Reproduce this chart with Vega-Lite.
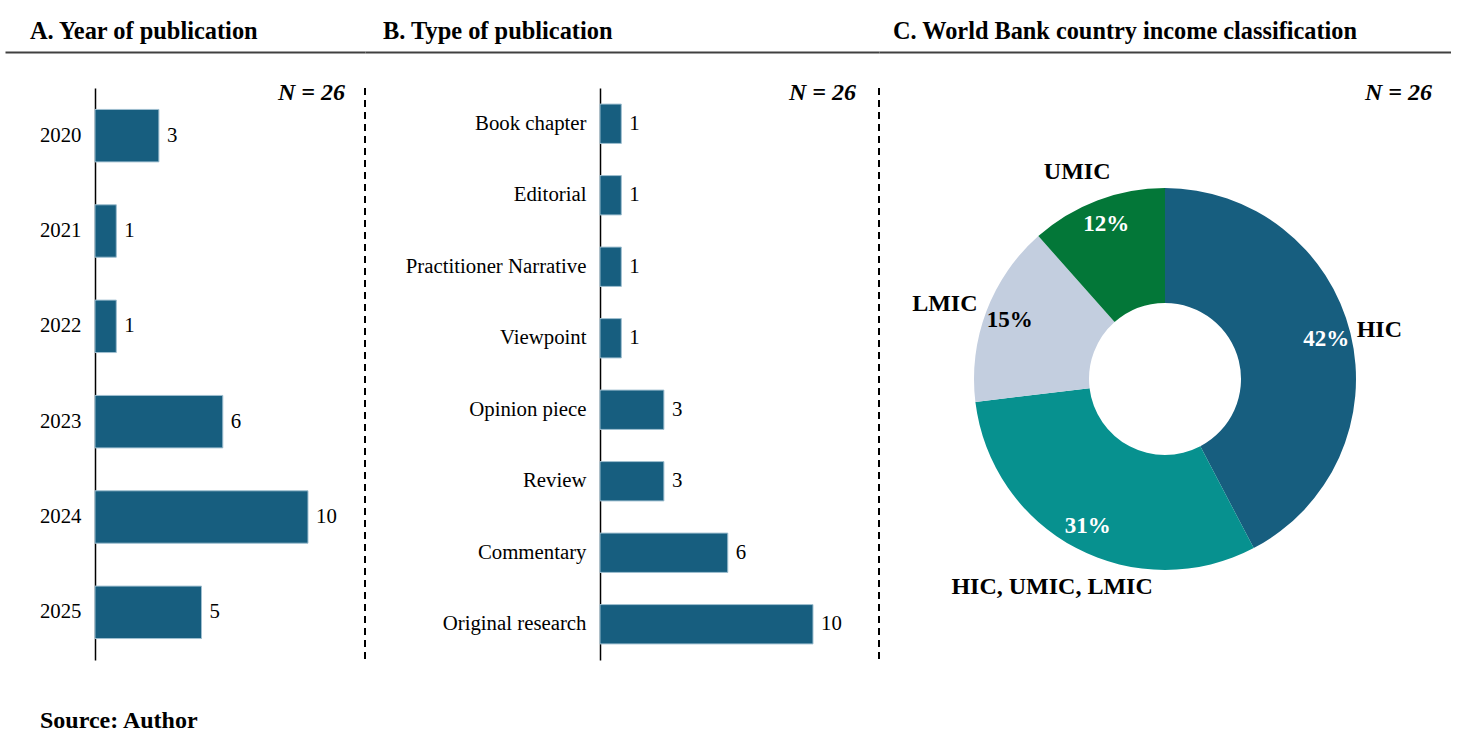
{
  "$schema": "https://vega.github.io/schema/vega-lite/v6.json",
  "padding": {"left": 5, "top": 18, "right": 0, "bottom": 0},
  "background": "white",
  "spacing": 0,
  "bounds": "flush",
  "config": {
    "view": {"stroke": null},
    "font": "Liberation Serif",
    "text": {"font": "Liberation Serif", "color": "black"},
    "title": {"font": "Liberation Serif", "color": "black", "fontWeight": "bold"},
    "axis": {"labelFont": "Liberation Serif", "labelColor": "black"}
  },
  "title": {"text": "Source: Author", "orient": "bottom", "anchor": "start", "dx": 35, "offset": 39, "fontSize": 24, "fontWeight": "bold", "font": "Liberation Serif", "color": "black"},
  "hconcat": [
    {
      "width": 360,
      "height": 572,
      "title": {"text": "A. Year of publication", "anchor": "start", "dx": 25, "offset": 8, "fontSize": 24.4, "fontWeight": "bold"},
      "data": {"values": [
        {"year": "2020", "count": 3},
        {"year": "2021", "count": 1},
        {"year": "2022", "count": 1},
        {"year": "2023", "count": 6},
        {"year": "2024", "count": 10},
        {"year": "2025", "count": 5}
      ]},
      "layer": [
        {
          "mark": {"type": "bar", "color": "#175e7f", "stroke": "#9fbfd0", "strokeWidth": 1},
          "encoding": {
            "y": {"field": "year", "type": "ordinal", "scale": {"paddingInner": 0.45, "paddingOuter": 0.225, "round": false},
              "axis": {"orient": "left", "offset": -90, "title": null, "domain": true, "domainColor": "black", "domainWidth": 1.5, "ticks": false, "tickSize": 0, "labelPadding": 14, "labelFontSize": 20.8, "labelLimit": 0, "grid": false}},
            "x": {"field": "count", "type": "quantitative", "scale": {"domain": [-4.225, 12.676], "nice": false, "zero": false},
              "axis": {"orient": "top", "offset": 36, "domain": true, "domainColor": "#404040", "domainWidth": 2, "labels": false, "ticks": false, "grid": false, "title": null}}
          }
        },
        {
          "mark": {"type": "text", "align": "left", "baseline": "middle", "dx": 8, "fontSize": 20.8},
          "encoding": {
            "y": {"field": "year", "type": "ordinal"},
            "x": {"field": "count", "type": "quantitative"},
            "text": {"field": "count", "type": "quantitative"}
          }
        },
        {
          "data": {"values": [{}]},
          "mark": {"type": "rule", "strokeDash": [7, 5], "strokeWidth": 2, "color": "black"},
          "encoding": {"x": {"value": "width"}}
        },
        {
          "data": {"values": [{}]},
          "mark": {"type": "text", "align": "right", "baseline": "middle", "dx": -20, "dy": -43, "fontSize": 24, "fontStyle": "italic", "fontWeight": "bold", "text": "N = 26"},
          "encoding": {"x": {"value": "width"}, "y": {"datum": "2020", "type": "ordinal"}}
        }
      ]
    },
    {
      "width": 514,
      "height": 572,
      "title": {"text": "B. Type of publication", "anchor": "start", "dx": 18, "offset": 8, "fontSize": 24.4, "fontWeight": "bold"},
      "data": {"values": [
        {"type": "Book chapter", "count": 1},
        {"type": "Editorial", "count": 1},
        {"type": "Practitioner Narrative", "count": 1},
        {"type": "Viewpoint", "count": 1},
        {"type": "Opinion piece", "count": 3},
        {"type": "Review", "count": 3},
        {"type": "Commentary", "count": 6},
        {"type": "Original research", "count": 10}
      ]},
      "layer": [
        {
          "mark": {"type": "bar", "color": "#175e7f", "stroke": "#9fbfd0", "strokeWidth": 1},
          "encoding": {
            "y": {"field": "type", "type": "nominal", "sort": null,
              "scale": {"domain": ["Book chapter", "Editorial", "Practitioner Narrative", "Viewpoint", "Opinion piece", "Review", "Commentary", "Original research"], "paddingInner": 0.45, "paddingOuter": 0.225, "round": false},
              "axis": {"orient": "left", "offset": -235, "title": null, "domain": true, "domainColor": "black", "domainWidth": 1.5, "ticks": false, "tickSize": 0, "labelPadding": 14, "labelFontSize": 20.8, "labelLimit": 0, "grid": false}},
            "x": {"field": "count", "type": "quantitative", "scale": {"domain": [-11.033, 13.099], "nice": false, "zero": false},
              "axis": {"orient": "top", "offset": 36, "domain": true, "domainColor": "#404040", "domainWidth": 2, "labels": false, "ticks": false, "grid": false, "title": null}}
          }
        },
        {
          "mark": {"type": "text", "align": "left", "baseline": "middle", "dx": 8, "fontSize": 20.8},
          "encoding": {
            "y": {"field": "type", "type": "nominal", "sort": null},
            "x": {"field": "count", "type": "quantitative"},
            "text": {"field": "count", "type": "quantitative"}
          }
        },
        {
          "data": {"values": [{}]},
          "mark": {"type": "rule", "strokeDash": [7, 5], "strokeWidth": 2, "color": "black"},
          "encoding": {"x": {"value": "width"}}
        },
        {
          "data": {"values": [{}]},
          "mark": {"type": "text", "align": "right", "baseline": "middle", "dx": -23, "dy": -31, "fontSize": 24, "fontStyle": "italic", "fontWeight": "bold", "text": "N = 26"},
          "encoding": {"x": {"value": "width"}, "y": {"datum": "Book chapter", "type": "nominal"}}
        }
      ]
    },
    {
      "width": 572,
      "height": 582,
      "title": {"text": "C. World Bank country income classification", "anchor": "start", "dx": 14, "offset": 8, "fontSize": 24.3, "fontWeight": "bold"},
      "data": {"values": [
        {"income": "HIC", "count": 11, "pct": "42%"},
        {"income": "HIC, UMIC, LMIC", "count": 8, "pct": "31%"},
        {"income": "LMIC", "count": 4, "pct": "15%"},
        {"income": "UMIC", "count": 3, "pct": "12%"}
      ]},
      "layer": [
        {
          "mark": {"type": "arc", "innerRadius": 76, "outerRadius": 191},
          "encoding": {
            "theta": {"field": "count", "type": "quantitative", "stack": true},
            "color": {"field": "income", "type": "nominal", "scale": {"domain": ["HIC", "HIC, UMIC, LMIC", "LMIC", "UMIC"], "range": ["#175e7f", "#07918f", "#c3cedf", "#037738"]}, "legend": null},
            "order": {"field": "income", "sort": "ascending"}
          }
        },
        {
          "mark": {"type": "text", "radius": 166, "fontSize": 23, "fontWeight": "bold"},
          "encoding": {
            "theta": {"field": "count", "type": "quantitative", "stack": true},
            "text": {"field": "pct", "type": "nominal"},
            "order": {"field": "income", "sort": "ascending"},
            "color": {"condition": {"test": "datum.income === 'LMIC'", "value": "black"}, "value": "white"}
          }
        },
        {
          "mark": {"type": "text", "radius": 228, "dx": -7, "dy": 6, "fontSize": 24, "fontWeight": "bold", "color": "black"},
          "encoding": {
            "theta": {"field": "count", "type": "quantitative", "stack": true},
            "text": {"field": "income", "type": "nominal"},
            "order": {"field": "income", "sort": "ascending"}
          }
        },
        {
          "data": {"values": [{}]},
          "mark": {"type": "text", "align": "right", "baseline": "middle", "dx": -19, "dy": 5, "fontSize": 24, "fontStyle": "italic", "fontWeight": "bold", "text": "N = 26"},
          "encoding": {
            "x": {"datum": "N", "type": "nominal", "scale": {"type": "point", "align": 1, "padding": 0},
              "axis": {"orient": "top", "offset": 36, "domain": true, "domainColor": "#404040", "domainWidth": 2, "labels": false, "ticks": false, "grid": false, "title": null}},
            "y": {"datum": "N", "type": "nominal", "scale": {"type": "point", "align": 0, "padding": 0}, "axis": null}
          }
        }
      ]
    }
  ]
}
